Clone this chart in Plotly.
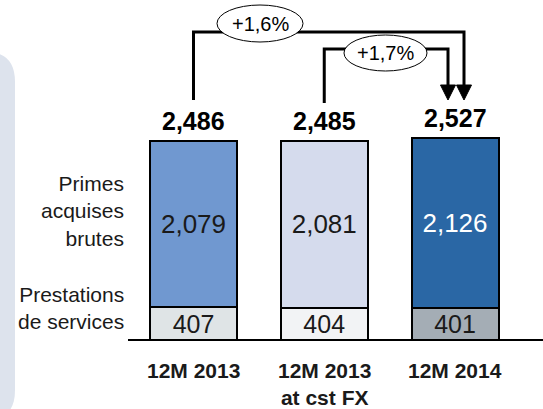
import plotly.graph_objects as go

# ---- data ----
categories = ["12M 2013", "12M 2013<br>at cst FX", "12M 2014"]
prestations = [407, 404, 401]
primes = [2079, 2081, 2126]
totals = [2486, 2485, 2527]
growth_labels = ["+1,6%", "+1,7%"]
series_names = ["Prestations<br>de services", "Primes<br>acquises<br>brutes"]

# ---- colours / style ----
top_colors = ["#7098d0", "#d5dbed", "#2a67a5"]
bottom_colors = ["#dfe4e6", "#f2f3f5", "#a4adb5"]
top_text_colors = ["#1a1a1a", "#1a1a1a", "#ffffff"]
FONT = "Liberation Sans, Arial, sans-serif"

W, H = 543, 409
# axis calibration (pixel <-> data)
X0_PX, X_STEP = 193.5, 130.75
Y0_PX, Y_PER_PX = 340.0, 12.5

def px2x(px):
    return (px - X0_PX) / X_STEP

def py2y(py):
    return (Y0_PX - py) * Y_PER_PX

def dx(px):
    return px / X_STEP

def dy(px):
    return px * Y_PER_PX

xs = list(range(len(categories)))
bar_w = dx(87)

fig = go.Figure()
fig.add_bar(
    x=xs, y=prestations, width=bar_w,
    marker=dict(color=bottom_colors, line=dict(color="black", width=2)),
    text=[f"{v:,}" for v in prestations], textposition="inside",
    insidetextanchor="middle", constraintext="none",
    textfont=dict(family=FONT, size=25, color="#1a1a1a"),
    hoverinfo="skip", name="Prestations",
)
fig.add_bar(
    x=xs, y=primes, width=bar_w,
    marker=dict(color=top_colors, line=dict(color="black", width=2)),
    text=[f"{v:,}" for v in primes], textposition="inside",
    insidetextanchor="middle", constraintext="none",
    textfont=dict(family=FONT, size=26, color=top_text_colors),
    hoverinfo="skip", name="Primes",
)

annotations = []
# totals
for x, t in zip(xs, totals):
    annotations.append(dict(x=x, y=t, yshift=20, yanchor="middle", xanchor="center",
                            text=f"<b>{t:,}</b>", showarrow=False,
                            font=dict(family=FONT, size=25, color="black")))
# category labels
for x, c in zip(xs, categories):
    annotations.append(dict(x=x, y=py2y(357), yanchor="top", xanchor="center",
                            text=f"<b>{c}</b>", showarrow=False,
                            font=dict(family=FONT, size=21, color="#1a1a1a")))
# series labels on the left
left_x = px2x(126)
annotations.append(dict(x=left_x, y=py2y(211), xanchor="right", yanchor="middle", align="right",
                        text=series_names[1], showarrow=False,
                        font=dict(family=FONT, size=21, color="#1a1a1a")))
annotations.append(dict(x=left_x, y=py2y(308), xanchor="right", yanchor="middle", align="right",
                        text=series_names[0], showarrow=False,
                        font=dict(family=FONT, size=21, color="#1a1a1a")))

shapes = []
# left rounded panel (paper coords)
def pxp(px):
    return px / W

def pyp(py):
    return 1 - py / H

r_x, r_y = 28, 30
panel = (f"M {pxp(-40)},{pyp(52)} L {pxp(15 - r_x)},{pyp(52)} "
         f"Q {pxp(15)},{pyp(52)} {pxp(15)},{pyp(52 + r_y)} "
         f"L {pxp(15)},{pyp(420 - r_y)} "
         f"Q {pxp(15)},{pyp(420)} {pxp(15 - r_x)},{pyp(420)} "
         f"L {pxp(-40)},{pyp(420)} Z")
shapes.append(dict(type="path", path=panel, xref="paper", yref="paper",
                   fillcolor="#dde3ed", line=dict(width=0), layer="below"))

# baseline
shapes.append(dict(type="line", xref="x", yref="y", x0=px2x(128), x1=px2x(W + 5), y0=0, y1=0,
                   line=dict(color="black", width=2)))

# growth brackets
bracket_specs = [
    # (from cat, to cat, top line px, right offset px, ellipse center px, ellipse w,h)
    (0, 2, 32, 9, (260, 23.5), 86, 37),
    (1, 2, 49, -7, (385.5, 53), 83, 36),
]
arrow_tip_py = 100
arrow_h, arrow_w = 15, 15
start_py = [100, 103]
for i, (a, b, top_py, off, (ecx, ecy), ew, eh) in enumerate(bracket_specs):
    xa = xs[a]
    xb = xs[b] + dx(off)
    path = (f"M {xa},{py2y(start_py[i])} L {xa},{py2y(top_py)} "
            f"L {xb},{py2y(top_py)} L {xb},{py2y(arrow_tip_py - arrow_h + 1)}")
    shapes.append(dict(type="path", path=path, xref="x", yref="y",
                       line=dict(color="black", width=3)))
    tri = (f"M {xb - dx(arrow_w / 2)},{py2y(arrow_tip_py - arrow_h)} "
           f"L {xb + dx(arrow_w / 2)},{py2y(arrow_tip_py - arrow_h)} "
           f"L {xb},{py2y(arrow_tip_py)} Z")
    shapes.append(dict(type="path", path=tri, xref="x", yref="y",
                       fillcolor="black", line=dict(color="black", width=1)))
    shapes.append(dict(type="circle", xref="x", yref="y",
                       x0=px2x(ecx - ew / 2), x1=px2x(ecx + ew / 2),
                       y0=py2y(ecy + eh / 2), y1=py2y(ecy - eh / 2),
                       fillcolor="white", line=dict(color="black", width=1)))
    annotations.append(dict(x=px2x(ecx), y=py2y(ecy), xanchor="center", yanchor="middle",
                            text=growth_labels[i], showarrow=False,
                            font=dict(family=FONT, size=20, color="black")))

fig.update_layout(
    width=W, height=H, margin=dict(l=0, r=0, t=0, b=0),
    paper_bgcolor="white", plot_bgcolor="white",
    barmode="stack", showlegend=False,
    xaxis=dict(range=[px2x(0), px2x(W)], visible=False, fixedrange=True),
    yaxis=dict(range=[py2y(H), py2y(0)], visible=False, fixedrange=True),
    shapes=shapes, annotations=annotations,
    font=dict(family=FONT),
)

fig.write_html("out.html", config={"displayModeBar": False},
               post_script="document.body.style.margin='0';document.body.style.overflow='hidden';")
